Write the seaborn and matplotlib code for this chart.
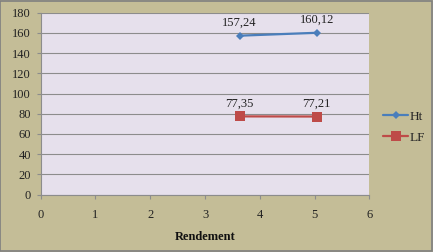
import matplotlib
matplotlib.use("Agg")
import matplotlib.pyplot as plt
import seaborn as sns
import pandas as pd

rendement = [3.63, 5.04]
ht = [157.24, 160.12]
lf = [77.35, 77.21]
series_names = ["Ht", "LF"]
ht_labels = ["157,24", "160,12"]
lf_labels = ["77,35", "77,21"]
xticks = [0, 1, 2, 3, 4, 5, 6]
yticks = [0, 20, 40, 60, 80, 100, 120, 140, 160, 180]

df = pd.DataFrame({
    "Rendement": rendement + rendement,
    "value": ht + lf,
    "serie": [series_names[0]] * 2 + [series_names[1]] * 2,
})

sns.set_theme(style="white")
plt.rcParams["font.family"] = ["Liberation Serif", "DejaVu Serif"]

bg = "#C4BD97"
fig = plt.figure(figsize=(4.33, 2.52), dpi=100, facecolor=bg)
ax = fig.add_axes([40.7 / 433, 1 - 194.5 / 252, (369.3 - 40.7) / 433, (194.5 - 12.7) / 252])
ax.set_facecolor("#E6E0EC")

colors = {"Ht": "#4A7EBB", "LF": "#BE4B48"}
markers = {"Ht": "D", "LF": "s"}
sizes = {"Ht": 4.5, "LF": 7}
for name in series_names:
    sub = df[df["serie"] == name]
    sns.lineplot(data=sub, x="Rendement", y="value", ax=ax, color=colors[name],
                 marker=markers[name], markersize=sizes[name], linewidth=1.6,
                 markeredgewidth=0, label=name)

for x, y, t in zip(rendement, ht, ht_labels):
    ax.annotate(t, (x, y), xytext=(0, 5), textcoords="offset points",
                ha="center", va="bottom", fontsize=9, color="#222222")
for x, y, t in zip(rendement, lf, lf_labels):
    ax.annotate(t, (x, y), xytext=(0, 5), textcoords="offset points",
                ha="center", va="bottom", fontsize=9, color="#222222")

ax.set_xlim(0, 6)
ax.set_ylim(0, 180)
ax.set_xticks(xticks)
ax.set_yticks(yticks)
ax.set_xticklabels([str(v) for v in xticks], fontsize=9)
ax.set_yticklabels([str(v) for v in yticks], fontsize=9)
ax.yaxis.grid(True, color="#8C8C8C", linewidth=0.8)
ax.set_axisbelow(True)
for s in ["top", "right"]:
    ax.spines[s].set_visible(False)
for s in ["left", "bottom"]:
    ax.spines[s].set_color("#8C8C8C")
    ax.spines[s].set_linewidth(0.8)
ax.tick_params(axis="both", which="major", direction="out", length=3, width=0.8,
               color="#8C8C8C", labelcolor="#222222", pad=7.5, left=True, bottom=True)
ax.tick_params(axis="y", pad=4)
ax.set_xlabel("Rendement", fontsize=9, fontweight="bold", labelpad=7, color="#111111")
ax.set_ylabel("")

ax.legend(loc="center left", bbox_to_anchor=(383 / 433, 1 - 127 / 252),
          bbox_transform=fig.transFigure, frameon=False, fontsize=9.5,
          handlelength=1.9, handletextpad=0.15, labelspacing=0.65, borderaxespad=0,
          borderpad=0)

border = plt.Rectangle((0.001, 0.002), 0.997, 0.996, transform=fig.transFigure,
                       fill=False, edgecolor="#7F7F7F", linewidth=1.2)
fig.patches.append(border)

fig.savefig("out.png", dpi=100, facecolor=bg)
